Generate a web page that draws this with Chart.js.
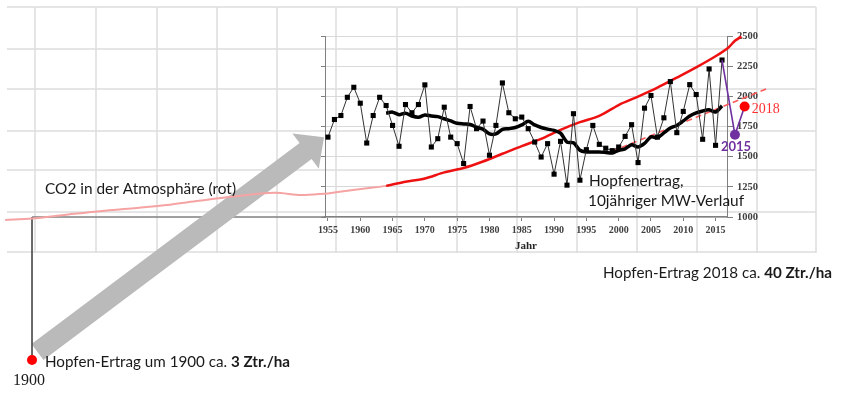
<!DOCTYPE html>
<html lang="de">
<head>
<meta charset="utf-8">
<title>Hopfenertrag und CO2</title>
<script src="https://cdn.jsdelivr.net/npm/chart.js@4.4.0/dist/chart.umd.min.js"></script>
<style>
  html, body { margin: 0; padding: 0; background: #fff; }
  #wrap { width: 847px; height: 396px; }
</style>
</head>
<body>
<div id="wrap"><canvas id="chart" width="847" height="396"></canvas></div>
<script>
// ---- Daten ----
const yieldYears  = [1955,1956,1957,1958,1959,1960,1961,1962,1963,1964,1965,1966,1967,1968,1969,1970,
                     1971,1972,1973,1974,1975,1976,1977,1978,1979,1980,1981,1982,1983,1984,1985,1986,
                     1987,1988,1989,1990,1991,1992,1993,1994,1995,1996,1997,1998,1999,2000,2001,2002,
                     2003,2004,2005,2006,2007,2008,2009,2010,2011,2012,2013,2014,2015,2016];
const yieldValues = [1662,1808,1841,1992,2075,1943,1613,1841,1992,1924,1759,1586,1932,1864,1932,2095,
                     1580,1649,1910,1662,1608,1443,1916,1732,1795,1512,1759,2111,1864,1814,1828,1732,
                     1621,1497,1608,1355,1627,1264,1856,1305,1558,1759,1602,1570,1550,1580,1668,1765,
                     1451,1902,2007,1662,1822,2122,1699,1875,2097,2015,1644,2227,1594,2301];

// 10jähriger gleitender Mittelwert
const maYears  = [1964,1965,1966,1967,1968,1969,1970,1971,1972,1973,1974,1975,1976,1977,1978,1979,1980,
                  1981,1982,1983,1984,1985,1986,1987,1988,1989,1990,1991,1992,1993,1994,1995,1996,1997,
                  1998,1999,2000,2001,2002,2003,2004,2005,2006,2007,2008,2009,2010,2011,2012,2013,2014,
                  2015,2016];
const maValues = [1860,1869,1848,1860,1837,1827,1846,1837,1832,1814,1796,1777,1771,1767,1744,1728,1689,
                  1689,1726,1732,1742,1763,1794,1763,1742,1728,1718,1695,1621,1615,1553,1539,1539,1539,
                  1535,1530,1553,1565,1598,1580,1610,1664,1658,1697,1738,1759,1796,1837,1862,1879,1889,
                  1870,1921];

// CO2-Kurve (in Einheiten der rechten Achse)
const co2Years  = [1955,1958,1961,1964,1967,1970,1973,1976,1979,1982,1985,1988,1991,1994,1997,2000,
                   2003,2006,2009,2012,2015,2017,2018,2019];
const co2Values = [1195,1218,1238,1258,1292,1319,1370,1406,1460,1524,1588,1648,1722,1786,1838,1928,
                   1998,2072,2155,2240,2332,2405,2460,2495];
const co2DarkFrom = 1964;

// CO2 vor 1955 (gestauchte Zeitachse)
const co2OldYears  = [1895,1900,1906,1913,1919,1925,1931,1937,1945,1950,1955];
const co2OldValues = [975,988,1017,1050,1072,1099,1134,1167,1200,1182,1195];

const trendYears  = [1999, 2023];
const trendValues = [1545, 2064];

const markYears  = [2016, 2018, 2019.5];
const markValues = [2301, 1682, 1916];

const point1900Years  = [1900, 1900];
const point1900Values = [1000, -185];

const xTicks = [1955,1960,1965,1970,1975,1980,1985,1990,1995,2000,2005,2010,2015];
const yTicks = [1000,1250,1500,1750,2000,2250,2500];

const pts = (xs, ys) => xs.map((x, i) => ({ x: x, y: ys[i] }));

// ---- Hintergrund-Raster, Pfeil, Texte ----
const SANS  = 'Lato, "Open Sans", sans-serif';
const SERIF = '"Liberation Serif", "DejaVu Serif", serif';

const decoPlugin = {
    id: 'deco',
    beforeDraw(chart) {
        const ctx = chart.ctx;
        ctx.save();
        ctx.fillStyle = '#fff';
        ctx.fillRect(0, 0, chart.width, chart.height);
        ctx.strokeStyle = '#dcdcdc';
        ctx.lineWidth = 1.5;
        [35, 96, 157, 217, 277, 336, 397, 457, 517, 577, 637, 697, 757, 816].forEach(x => {
            ctx.beginPath(); ctx.moveTo(x, 7); ctx.lineTo(x, 253); ctx.stroke();
        });
        [7, 49, 89, 131, 170, 212, 252].forEach(y => {
            ctx.beginPath(); ctx.moveTo(7, y); ctx.lineTo(816, y); ctx.stroke();
        });
        ctx.restore();
    },
    beforeDatasetsDraw(chart) {
        const ctx = chart.ctx;
        const { xOld, y } = chart.scales;
        ctx.save();
        // Achsenverlängerung bis 1900
        ctx.strokeStyle = '#7f7f7f';
        ctx.lineWidth = 1.5;
        ctx.beginPath();
        ctx.moveTo(xOld.getPixelForValue(1900), y.getPixelForValue(1000));
        ctx.lineTo(chart.chartArea.left, y.getPixelForValue(1000));
        ctx.stroke();

        // grauer Pfeil
        const tail = { x: 37.5, y: 352 }, tip = { x: 324, y: 137.3 };
        const dx = tip.x - tail.x, dy = tip.y - tail.y, len = Math.hypot(dx, dy);
        const ux = dx / len, uy = dy / len, nx = -uy, ny = ux;
        const sw = 10, hw = 22, hl = 23;
        const bx = tip.x - ux * hl, by = tip.y - uy * hl;
        ctx.fillStyle = '#bababa';
        ctx.beginPath();
        ctx.moveTo(tail.x + nx * sw, tail.y + ny * sw);
        ctx.lineTo(bx + nx * sw, by + ny * sw);
        ctx.lineTo(bx + nx * hw, by + ny * hw);
        ctx.lineTo(tip.x, tip.y);
        ctx.lineTo(bx - nx * hw, by - ny * hw);
        ctx.lineTo(bx - nx * sw, by - ny * sw);
        ctx.lineTo(tail.x - nx * sw, tail.y - ny * sw);
        ctx.closePath();
        ctx.fill();
        ctx.restore();
    },
    afterDatasetsDraw(chart) {
        // Punkte ausserhalb der Zeichenfläche (Chart.js lässt sie sonst weg)
        chart.data.datasets.forEach((ds, i) => {
            if (!ds.drawOutside) return;
            chart.getDatasetMeta(i).data.forEach(el => el.draw(chart.ctx));
        });
    },
    afterDraw(chart) {
        const ctx = chart.ctx;
        const { x, xOld, y } = chart.scales;
        ctx.save();
        ctx.textBaseline = 'middle';
        ctx.fillStyle = '#1a1a1a';

        ctx.font = '15.4px ' + SANS;
        ctx.fillText('CO2 in der Atmosphäre (rot)', 45, 189);

        ctx.font = '15.4px ' + SANS;
        ctx.fillText('Hopfenertrag,', 589, 181);
        ctx.fillText('10jähriger MW-Verlauf', 588, 201);

        const mixed = (a, b, px, py, size) => {
            ctx.font = size + 'px ' + SANS;
            ctx.fillText(a, px, py);
            const w = ctx.measureText(a).width;
            ctx.font = 'bold ' + size + 'px ' + SANS;
            ctx.fillText(b, px + w, py);
        };
        mixed('Hopfen-Ertrag um 1900 ca. ', '3 Ztr./ha', 45, 362, 15.2);
        mixed('Hopfen-Ertrag 2018 ca. ', '40 Ztr./ha', 603, 273, 15.2);

        ctx.font = '16px ' + SERIF;
        ctx.textAlign = 'center';
        ctx.fillText('1900', xOld.getPixelForValue(1900) - 3, 381);

        ctx.textAlign = 'left';
        ctx.font = '14px ' + SERIF;
        ctx.fillStyle = '#ff3030';
        ctx.fillText('2018', x.getPixelForValue(markYears[2]) + 7, y.getPixelForValue(markValues[2]) + 3);

        ctx.font = 'bold 13px ' + SANS;
        ctx.fillStyle = '#7030a0';
        ctx.fillText('2015', x.getPixelForValue(markYears[1]) - 14, y.getPixelForValue(markValues[1]) + 12);
        ctx.restore();
    }
};

const tickObjs = arr => arr.map(v => ({ value: v }));

new Chart(document.getElementById('chart'), {
    type: 'line',
    data: {
        datasets: [
            {   // Linie 2016 -> 2015 -> 2018
                data: pts(markYears, markValues),
                borderColor: '#7030a0', borderWidth: 1.6,
                pointRadius: [0, 5, 5],
                pointBackgroundColor: ['#7030a0', '#7030a0', '#ff0000'],
                pointBorderWidth: 0,
                drawOutside: true
            },
            {   // Jahreswerte
                data: pts(yieldYears, yieldValues),
                borderColor: '#333', borderWidth: 1,
                pointStyle: 'rect', pointRadius: 3.6,
                pointBackgroundColor: '#000', pointBorderWidth: 0
            },
            {   // 10jähriger Mittelwert
                data: pts(maYears, maValues),
                borderColor: '#000', borderWidth: 3.5, pointRadius: 0, tension: 0.3
            },
            {   // CO2 ab 1955
                data: pts(co2Years, co2Values),
                borderColor: '#ee1111', borderWidth: 2.5, pointRadius: 0, tension: 0.3,
                segment: {
                    borderColor: c => c.p1.parsed.x <= co2DarkFrom ? '#f5a3a3' : '#ee1111',
                    borderWidth: c => c.p1.parsed.x <= co2DarkFrom ? 2 : 2.5
                }
            },
            {   // Trend gestrichelt
                data: pts(trendYears, trendValues),
                borderColor: '#ff5a5a', borderWidth: 1.5, borderDash: [6, 4], pointRadius: 0
            },
            {   // CO2 vor 1955
                xAxisID: 'xOld',
                data: pts(co2OldYears, co2OldValues),
                borderColor: '#f5a3a3', borderWidth: 2, pointRadius: 0, tension: 0.3
            },
            {   // Ertrag um 1900
                xAxisID: 'xOld',
                data: pts(point1900Years, point1900Values),
                borderColor: '#555', borderWidth: 1,
                pointRadius: [0, 5], pointBackgroundColor: '#ff0000', pointBorderWidth: 0,
                drawOutside: true
            }
        ].map(d => Object.assign({ xAxisID: 'x', yAxisID: 'y', fill: false, clip: false }, d))
    },
    options: {
        responsive: false,
        animation: false,
        events: [],
        layout: { padding: { left: 321, right: 80, top: 36, bottom: 139 } },
        plugins: { legend: { display: false }, tooltip: { enabled: false } },
        scales: {
            x: {
                type: 'linear', position: 'bottom',
                afterBuildTicks: s => { s.ticks = tickObjs(xTicks); s.min = 1954.54; s.max = 2016.77; },
                afterFit: s => { s.height = 40; },
                grid: { drawOnChartArea: false, tickLength: 4, color: '#808080' },
                border: { color: '#808080', width: 1.5 },
                ticks: {
                    font: { family: SERIF, size: 10, weight: 'bold' }, color: '#404040',
                    maxRotation: 0, autoSkip: false, padding: 3, callback: v => String(v)
                },
                title: {
                    display: true, text: 'Jahr', color: '#262626',
                    font: { family: SERIF, size: 11, weight: 'bold' }, padding: { top: 0, bottom: 4 }
                }
            },
            xOld: {
                type: 'linear', position: 'bottom', display: false,
                afterBuildTicks: s => { s.min = 1954.44; s.max = 2029.14; }
            },
            y: {
                type: 'linear', position: 'right', min: 1000, max: 2500,
                afterBuildTicks: s => { s.ticks = tickObjs(yTicks); },
                afterFit: s => { s.width = 40; },
                grid: { color: '#d9d9d9', tickLength: 6, tickColor: '#808080' },
                border: { color: '#808080' },
                ticks: {
                    font: { family: SERIF, size: 10.5, weight: 'bold' }, color: '#404040',
                    padding: 4, callback: v => String(v)
                }
            },
            yL: {
                type: 'linear', position: 'left', min: 1000, max: 2500,
                afterBuildTicks: s => { s.ticks = tickObjs(yTicks); },
                afterFit: s => { s.width = 4; },
                grid: { drawOnChartArea: false, tickLength: 4, color: '#808080' },
                border: { color: '#808080' },
                ticks: { display: false }
            }
        }
    },
    plugins: [decoPlugin]
});
</script>
</body>
</html>
